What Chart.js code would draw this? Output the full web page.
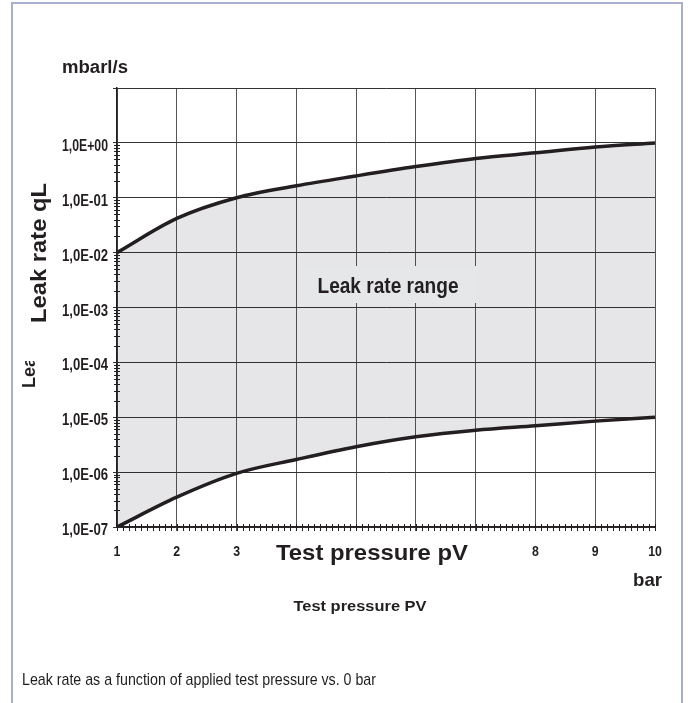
<!DOCTYPE html>
<html>
<head>
<meta charset="utf-8">
<script src="https://cdn.jsdelivr.net/npm/chart.js@4/dist/chart.umd.min.js"></script>
<style>
  html, body { margin: 0; padding: 0; background: #fff; }
  #wrap { position: relative; width: 688px; height: 703px; overflow: hidden; }
  #frame {
    position: absolute; left: 11px; top: 2px; width: 672px; height: 720px;
    border: 2px solid #a9afcc; border-bottom: none; box-sizing: border-box;
  }
  #leak { position: absolute; left: 0; top: 0; }
</style>
</head>
<body>
<div id="wrap">
  <div id="frame"></div>
  <canvas id="leak" width="688" height="703"></canvas>
</div>
<script>
// test pressure in bar
const pressure = [1, 2, 3, 4, 5, 6, 7, 8, 9, 10];
// upper and lower bound of the leak rate, mbar·l/s
const upperLeak = [1e-2, 4.2e-2, 1.0e-1, 1.65e-1, 2.5e-1, 3.7e-1, 5.2e-1, 6.6e-1, 8.4e-1, 1.0];
const lowerLeak = [1e-7, 3.5e-7, 9.5e-7, 1.7e-6, 2.9e-6, 4.4e-6, 5.8e-6, 7.0e-6, 8.5e-6, 1e-5];
// tick labels
const decades = [1e-7, 1e-6, 1e-5, 1e-4, 1e-3, 1e-2, 1e-1, 1e0, 1e1];
const xLabels = ["1", "2", "3", "", "", "", "", "8", "9", "10"];

const ink = "#231f20";
const sans = "'Liberation Sans', Arial, sans-serif";

function yLabel(v) {
  if (v > 1) return "";
  const e = Math.round(Math.log10(v));
  const sign = e < 0 ? "-" : "+";
  return "1,0E" + sign + String(Math.abs(e)).padStart(2, "0");
}

// draws text squeezed horizontally, either to a width or by a factor
function squeeze(ctx, text, x, y, font, align, width, factor) {
  ctx.save();
  ctx.font = font;
  const w = ctx.measureText(text).width;
  const sx = width ? width / w : factor || 0.8;
  ctx.translate(x, y);
  ctx.scale(sx, 1);
  ctx.textAlign = align;
  ctx.fillText(text, 0, 0);
  ctx.restore();
}

const extras = {
  id: "extras",
  afterDraw(chart) {
    const ctx = chart.ctx;
    const x = chart.scales.x;
    const y = chart.scales.y;
    const bottom = chart.chartArea.bottom;
    const left = chart.chartArea.left;

    // minor ticks
    ctx.save();
    ctx.strokeStyle = ink;
    ctx.lineWidth = 1;
    ctx.beginPath();
    for (let i = 10; i <= 100; i++) {
      const px = Math.round(x.getPixelForValue(i / 10)) + 0.5;
      ctx.moveTo(px, bottom - 3);
      ctx.lineTo(px, bottom + 4);
    }
    for (let d = -7; d < 0; d++) {
      for (let m = 2; m <= 9; m++) {
        const py = Math.round(y.getPixelForValue(m * Math.pow(10, d))) + 0.5;
        ctx.moveTo(left - 3, py);
        ctx.lineTo(left + 3, py);
      }
    }
    ctx.stroke();
    ctx.restore();

    ctx.save();
    ctx.fillStyle = ink;
    ctx.textBaseline = "alphabetic";

    // tick labels
    decades.forEach((v) => {
      const t = yLabel(v);
      if (!t) return;
      squeeze(ctx, t, 108, y.getPixelForValue(v) + 8, "bold 16px " + sans, "right", 46);
    });
    pressure.forEach((v, i) => {
      if (!xLabels[i]) return;
      squeeze(ctx, xLabels[i], x.getPixelForValue(v), bottom + 29, "bold 14px " + sans, "center", 0, 0.88);
    });

    // range label with its own patch
    ctx.fillStyle = "#e6e7e9";
    ctx.fillRect(300, 266, 176, 37);
    ctx.fillStyle = ink;
    squeeze(ctx, "Leak rate range", 388, 293, "bold 22px " + sans, "center", 141);

    // unit on top
    squeeze(ctx, "mbarl/s", 62, 73, "bold 18px " + sans, "left", 66);

    // x unit
    squeeze(ctx, "bar", 662, 586, "bold 19px " + sans, "right", 29);

    // big x title over the middle ticks
    squeeze(ctx, "Test pressure pV", 372, 560, "bold 22px " + sans, "center", 192);

    // small x title
    squeeze(ctx, "Test pressure PV", 360, 611, "bold 15px " + sans, "center", 133);

    // caption
    ctx.fillStyle = "#1e1e1e";
    squeeze(ctx, "Leak rate as a function of applied test pressure vs. 0 bar", 22, 685, "17px " + sans, "left", 354);

    // y titles
    ctx.fillStyle = ink;
    ctx.save();
    ctx.translate(46, 253);
    ctx.rotate(-Math.PI / 2);
    squeeze(ctx, "Leak rate qL", 0, 0, "bold 22px " + sans, "center", 140);
    ctx.restore();

    ctx.save();
    ctx.beginPath();
    ctx.rect(0, 361, 60, 60);
    ctx.clip();
    ctx.translate(35, 388);
    ctx.rotate(-Math.PI / 2);
    squeeze(ctx, "Leak rate qL", 0, 0, "bold 19px " + sans, "left", 0, 0.95);
    ctx.restore();

    ctx.restore();
  },
};

new Chart(document.getElementById("leak"), {
  type: "line",
  data: {
    labels: pressure,
    datasets: [
      {
        label: "upper",
        data: pressure.map((p, i) => ({ x: p, y: upperLeak[i] })),
        borderColor: ink,
        borderWidth: 3.5,
        pointRadius: 0,
        cubicInterpolationMode: "monotone",
        fill: false,
      },
      {
        label: "lower",
        data: pressure.map((p, i) => ({ x: p, y: lowerLeak[i] })),
        borderColor: ink,
        borderWidth: 3.5,
        pointRadius: 0,
        cubicInterpolationMode: "monotone",
        backgroundColor: "rgba(30, 30, 50, 0.11)",
        fill: "-1",
      },
    ],
  },
  options: {
    responsive: false,
    animation: false,
    layout: { padding: { left: 0, right: 33, top: 88, bottom: 146 } },
    plugins: { legend: { display: false }, tooltip: { enabled: false } },
    scales: {
      x: {
        type: "linear",
        min: 1,
        max: 10,
        afterBuildTicks: (scale) => {
          scale.ticks = pressure.map((v) => ({ value: v }));
        },
        afterFit: (scale) => {
          scale.height = 30;
        },
        ticks: { display: false },
        grid: { color: "#555", lineWidth: 1, tickLength: 4 },
        border: { color: ink, width: 1.5 },
      },
      y: {
        type: "logarithmic",
        min: 1e-7,
        max: 10,
        afterBuildTicks: (scale) => {
          scale.ticks = decades.map((v) => ({ value: v }));
        },
        afterFit: (scale) => {
          scale.width = 117;
        },
        ticks: { display: false },
        grid: { color: "#333", lineWidth: 1, tickLength: 4 },
        border: { color: ink, width: 1.5 },
      },
    },
  },
  plugins: [extras],
});
</script>
</body>
</html>
